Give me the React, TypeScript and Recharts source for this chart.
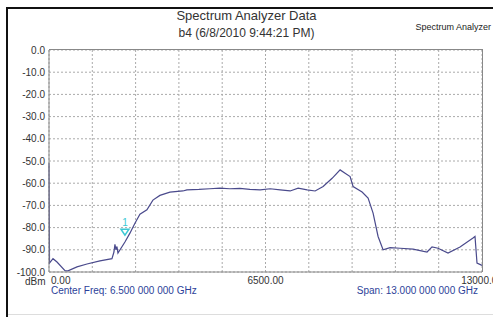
import { LineChart, Line, XAxis, YAxis, CartesianGrid, ReferenceDot } from "recharts"

// frequency in MHz, level in dBm
const freqs = [
  0, 15, 120, 240, 480, 570, 840, 1140, 1530, 1890, 1950, 1980, 2010, 2040, 2070, 2280, 2430, 2580, 2730,
  2940, 3120, 3330, 3630, 4020, 4140, 4500, 4830, 5130, 5430, 5730, 6030, 6340, 6640, 6940, 7240, 7480,
  7750, 7990, 8230, 8500, 8740, 8890, 9040, 9130, 9400, 9580, 9730, 9880, 10030, 10240, 10540, 10930,
  11350, 11500, 11680, 11980, 12340, 12730, 12790, 12850, 13000,
]
const levels = [
  -51, -96, -94, -95.5, -99.4, -99.5, -97.7, -96.4, -95, -94, -91, -87.5, -90, -88.5, -91.5, -86.5, -82.5,
  -78, -74, -72, -67.6, -65.5, -64, -63.5, -63, -62.8, -62.5, -62.2, -62.5, -62.3, -62.8, -63, -62.5,
  -63, -63.5, -62.2, -63, -63.5, -61.5, -57.8, -54, -55.5, -57, -61.5, -64, -66.7, -73.5, -84, -90,
  -89, -89.3, -89.7, -91, -88.7, -89.3, -91.5, -88.7, -84.7, -84, -96, -97,
]
const yTicks = [0, -10, -20, -30, -40, -50, -60, -70, -80, -90, -100]
const xTicks = [0, 1300, 2600, 3900, 5200, 6500, 7800, 9100, 10400, 11700, 13000]
const xLabels = [0, 6500, 13000]
const marker = { freq: 2280, level: -82.5, label: "1" }

const data = freqs.map((f, i) => ({ freq: f, level: levels[i] }))

const font = "'Liberation Sans', Arial, sans-serif"

function XTick(props: any) {
  const { x, y, payload } = props
  const v = payload.value
  if (!xLabels.includes(v)) return null
  return (
    <text x={v === 0 ? x + 2 : x} y={y + 4} textAnchor={v === 0 ? "start" : "middle"} fontSize={10} fill="#333" fontFamily={font}>
      {v.toFixed(2)}
    </text>
  )
}

function MarkerShape(props: any) {
  const { cx, cy } = props
  return (
    <g>
      <path d={`M${cx - 4},${cy - 4} L${cx + 4},${cy - 4} L${cx},${cy + 2} Z`} fill="none" stroke="#3cc8d4" strokeWidth={1.5} />
      <text x={cx} y={cy - 7} textAnchor="middle" fontSize={10} fill="#3cc8d4" fontFamily={font}>
        {marker.label}
      </text>
    </g>
  )
}

export default function App() {
  return (
    <div style={{ position: "fixed", left: 0, top: 0, width: 493, height: 317, background: "#fff", fontFamily: font, overflow: "hidden" }}>
      <div style={{ position: "absolute", left: 6, top: 7, width: 487, height: 2, background: "#111" }} />
      <div style={{ position: "absolute", left: 6, top: 7, width: 2, height: 310, background: "#111" }} />
      <div style={{ position: "absolute", left: 8, top: 314, width: 485, height: 1, background: "#ddd" }} />
      <div style={{ position: "absolute", left: 0, width: 493, top: 8, textAlign: "center", fontSize: 13, color: "#333" }}>
        Spectrum Analyzer Data
      </div>
      <div style={{ position: "absolute", left: 0, width: 493, top: 26, textAlign: "center", fontSize: 12, color: "#333" }}>
        b4 (6/8/2010 9:44:21 PM)
      </div>
      <div style={{ position: "absolute", right: 2, top: 22, fontSize: 9, color: "#222" }}>Spectrum Analyzer</div>
      <LineChart width={493} height={317} data={data} margin={{ top: 50, right: 11, bottom: 25, left: 4 }} style={{ position: "absolute", left: 0, top: 0 }}>
        <CartesianGrid stroke="#aaa" strokeDasharray="2 2" />
        <XAxis
          dataKey="freq"
          type="number"
          domain={[0, 13000]}
          ticks={xTicks}
          tick={<XTick />}
          tickLine={false}
          axisLine={{ stroke: "#888" }}
          height={20}
          interval={0}
        />
        <YAxis
          type="number"
          domain={[-100, 0]}
          ticks={yTicks}
          tickFormatter={(v: number) => v.toFixed(1)}
          tick={{ fontSize: 10, fill: "#333", fontFamily: font }}
          tickLine={false}
          tickSize={0}
          tickMargin={4}
          axisLine={{ stroke: "#888" }}
          width={45}
          interval={0}
        />
        <Line type="linear" dataKey="level" stroke="#4a4a8c" strokeWidth={1.2} dot={false} isAnimationActive={false} />
        <ReferenceDot x={marker.freq} y={marker.level} r={0} shape={<MarkerShape />} />
      </LineChart>
      <div style={{ position: "absolute", left: 482, top: 50, width: 0, height: 222, borderRight: "1px solid #888" }} />
      <div style={{ position: "absolute", left: 49, top: 49, width: 434, height: 0, borderTop: "1px solid #888" }} />
      <div style={{ position: "absolute", left: 25, top: 276, fontSize: 10, color: "#333" }}>dBm</div>
      <div style={{ position: "absolute", left: 51, top: 285, fontSize: 10, color: "#2c3f99" }}>Center Freq: 6.500 000 000 GHz</div>
      <div style={{ position: "absolute", right: 15, top: 285, fontSize: 10, color: "#2c3f99" }}>Span: 13.000 000 000 GHz</div>
    </div>
  )
}
